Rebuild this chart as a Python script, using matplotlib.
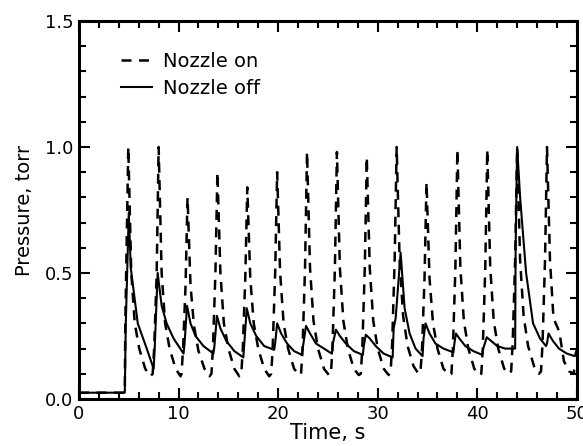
import numpy as np
import matplotlib
matplotlib.use("Agg")
import matplotlib.pyplot as plt
from matplotlib.ticker import MultipleLocator, FormatStrFormatter

# Nozzle on (dashed)
t_on = [0.0, 4.6, 4.65, 4.95, 5.25, 5.6, 6.05, 6.65, 7.15,
        7.4, 7.55, 7.8, 8.0, 8.3, 8.65, 9.1, 9.7, 10.2,
        10.3, 10.45, 10.7, 10.9, 11.2, 11.55, 12.0, 12.6, 13.1,
        13.3, 13.45, 13.7, 13.9, 14.2, 14.55, 15.0, 15.6, 16.1,
        16.3, 16.45, 16.7, 16.9, 17.2, 17.55, 18.0, 18.6, 19.1,
        19.3, 19.45, 19.7, 19.9, 20.2, 20.55, 21.0, 21.6, 22.1,
        22.3, 22.45, 22.7, 22.9, 23.2, 23.55, 24.0, 24.6, 25.1,
        25.3, 25.45, 25.7, 25.9, 26.2, 26.55, 27.0, 27.6, 28.1,
        28.3, 28.45, 28.7, 28.9, 29.2, 29.55, 30.0, 30.6, 31.1,
        31.3, 31.45, 31.7, 31.9, 32.2, 32.55, 33.0, 33.6, 34.1,
        34.3, 34.45, 34.7, 34.9, 35.2, 35.55, 36.0, 36.6, 37.2,
        37.4, 37.55, 37.8, 38.0, 38.3, 38.65, 39.1, 39.7, 40.2,
        40.4, 40.55, 40.8, 41.0, 41.3, 41.65, 42.1, 42.7, 43.2,
        43.4, 43.55, 43.8, 44.0, 44.3, 44.65, 45.1, 45.7, 46.2,
        46.4, 46.55, 46.8, 47.0, 47.3, 47.65, 48.1, 48.3, 48.7, 49.2, 49.7,
        49.75, 50.0]
p_on = [0.025, 0.025, 0.30, 1.00, 0.50, 0.30, 0.20, 0.12, 0.09,
        0.10, 0.20, 0.50, 1.00, 0.50, 0.30, 0.20, 0.12, 0.09,
        0.10, 0.20, 0.45, 0.80, 0.45, 0.29, 0.19, 0.12, 0.09,
        0.10, 0.20, 0.50, 0.90, 0.50, 0.30, 0.20, 0.12, 0.09,
        0.10, 0.20, 0.48, 0.84, 0.48, 0.30, 0.20, 0.12, 0.09,
        0.10, 0.20, 0.50, 0.90, 0.50, 0.30, 0.20, 0.12, 0.095,
        0.10, 0.20, 0.52, 0.98, 0.52, 0.31, 0.20, 0.12, 0.095,
        0.10, 0.20, 0.52, 0.98, 0.52, 0.31, 0.20, 0.12, 0.095,
        0.10, 0.20, 0.52, 0.96, 0.52, 0.31, 0.20, 0.12, 0.095,
        0.11, 0.22, 0.55, 1.00, 0.55, 0.33, 0.21, 0.13, 0.10,
        0.11, 0.20, 0.48, 0.86, 0.48, 0.30, 0.20, 0.12, 0.095,
        0.10, 0.20, 0.52, 0.99, 0.52, 0.31, 0.20, 0.12, 0.095,
        0.10, 0.20, 0.52, 0.99, 0.52, 0.31, 0.20, 0.12, 0.10,
        0.11, 0.22, 0.55, 1.00, 0.55, 0.33, 0.21, 0.13, 0.10,
        0.11, 0.22, 0.55, 1.00, 0.55, 0.32, 0.28, 0.25, 0.15, 0.11, 0.10,
        0.14, 0.14]

# Nozzle off (solid)
t_off = [0.0, 4.6, 4.7, 5.0, 5.2, 5.9, 6.8, 7.5,
         7.6, 7.9, 8.3, 8.8, 9.5, 10.5,
         10.6, 10.85, 11.2, 11.7, 12.5, 13.5,
         13.6, 13.85, 14.2, 14.8, 15.6, 16.5,
         16.6, 16.85, 17.2, 17.8, 18.6, 19.6,
         19.7, 19.9, 20.3, 20.9, 21.6, 22.4,
         22.5, 22.8, 23.2, 23.8, 24.6, 25.4,
         25.5, 25.8, 26.2, 26.8, 27.6, 28.5,
         28.6, 28.8, 29.2, 29.8, 30.6, 31.5,
         31.6, 31.8, 32.3, 32.7, 33.2, 33.8, 34.5,
         34.6, 34.8, 35.2, 35.8, 36.6, 37.6,
         37.7, 37.85, 38.2, 38.8, 39.6, 40.5,
         40.6, 40.95, 41.4, 42.0, 42.8, 43.8,
         43.85, 44.0, 44.3, 44.9, 45.6, 46.3, 46.9,
         47.0, 47.15, 47.6, 48.2, 49.0, 49.8, 50.0]
p_off = [0.025, 0.025, 0.30, 0.74, 0.52, 0.30, 0.20, 0.12,
         0.20, 0.50, 0.37, 0.30, 0.24, 0.18,
         0.22, 0.37, 0.30, 0.25, 0.21, 0.18,
         0.21, 0.33, 0.28, 0.23, 0.19, 0.165,
         0.22, 0.36, 0.30, 0.25, 0.21, 0.195,
         0.22, 0.30, 0.26, 0.22, 0.19, 0.175,
         0.21, 0.29, 0.26, 0.22, 0.20, 0.18,
         0.22, 0.275, 0.25, 0.22, 0.19, 0.175,
         0.21, 0.255, 0.24, 0.21, 0.18, 0.165,
         0.28, 0.32, 0.58, 0.36, 0.26, 0.20, 0.17,
         0.24, 0.30, 0.26, 0.22, 0.20, 0.185,
         0.22, 0.26, 0.24, 0.21, 0.19, 0.175,
         0.20, 0.245, 0.23, 0.21, 0.20, 0.20,
         0.60, 1.00, 0.80, 0.50, 0.30, 0.24, 0.21,
         0.22, 0.26, 0.23, 0.20, 0.18, 0.17, 0.20]

fig = plt.figure(figsize=(5.83, 4.46), dpi=100)
ax = fig.add_axes([0.1355, 0.1054, 0.854, 0.8476])

ax.plot(t_on, p_on, color="black", lw=1.8, dashes=(4, 3), label="Nozzle on")
ax.plot(t_off, p_off, color="black", lw=1.5, label="Nozzle off")

ax.set_xlim(0, 50)
ax.set_ylim(0, 1.5)
ax.xaxis.set_major_locator(MultipleLocator(10))
ax.xaxis.set_minor_locator(MultipleLocator(2))
ax.yaxis.set_major_locator(MultipleLocator(0.5))
ax.yaxis.set_minor_locator(MultipleLocator(0.1))
ax.yaxis.set_major_formatter(FormatStrFormatter("%.1f"))
ax.tick_params(which="both", direction="in", top=True, right=True,
               labelsize=13, width=1.5)
ax.tick_params(which="major", length=8, pad=4)
ax.tick_params(which="minor", length=5)
for s in ax.spines.values():
    s.set_linewidth(2.2)

ax.set_xlabel("Time, s", fontsize=15, labelpad=0)
ax.set_ylabel("Pressure, torr", fontsize=14, labelpad=8)

leg = ax.legend(loc="upper left", bbox_to_anchor=(0.05, 0.965), frameon=False,
                fontsize=14, handlelength=1.55, handletextpad=0.6, labelspacing=0.42)

fig.savefig("out.png", dpi=100)
